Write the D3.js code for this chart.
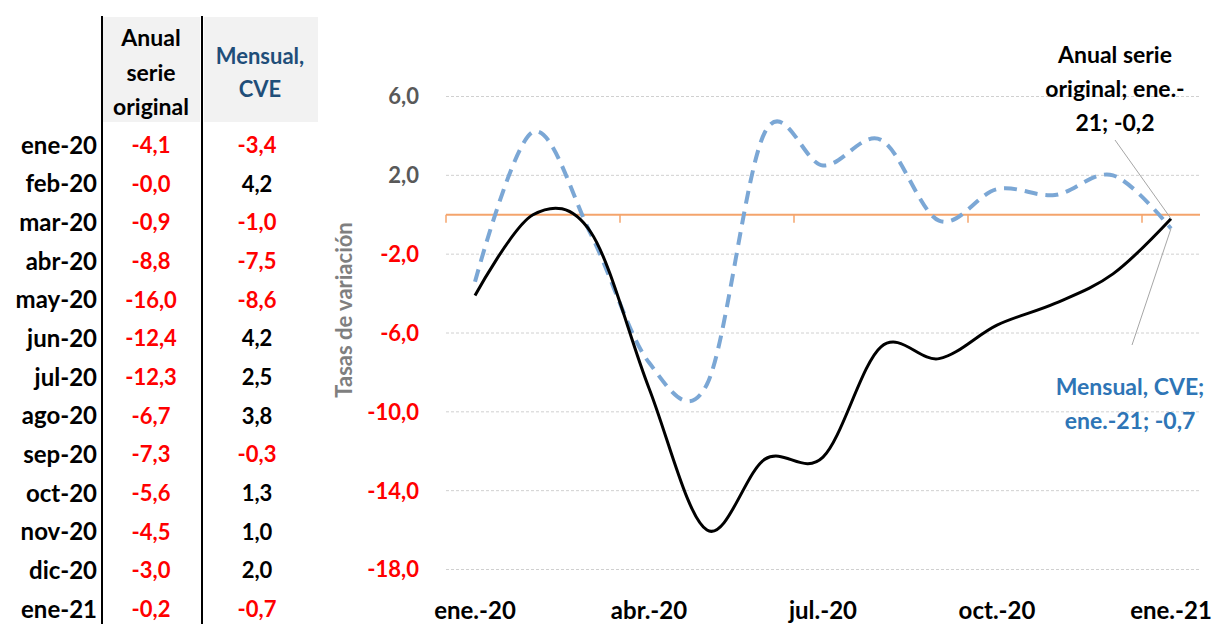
<!DOCTYPE html>
<html>
<head>
<meta charset="utf-8">
<script src="https://cdn.jsdelivr.net/npm/d3@7"></script>
<style>
  body { margin: 0; background: #fff; }
  svg { font-family: Lato, "Open Sans", sans-serif; font-weight: bold; }
</style>
</head>
<body>
<svg id="chart" width="1217" height="624"></svg>
<script>
const rowLabels = ["ene-20","feb-20","mar-20","abr-20","may-20","jun-20","jul-20","ago-20","sep-20","oct-20","nov-20","dic-20","ene-21"];
const axisLabels = ["ene.-20","feb.-20","mar.-20","abr.-20","may.-20","jun.-20","jul.-20","ago.-20","sep.-20","oct.-20","nov.-20","dic.-20","ene.-21"];
const anual = [-4.1, -0.0, -0.9, -8.8, -16.0, -12.4, -12.3, -6.7, -7.3, -5.6, -4.5, -3.0, -0.2];
const anualText = ["-4,1","-0,0","-0,9","-8,8","-16,0","-12,4","-12,3","-6,7","-7,3","-5,6","-4,5","-3,0","-0,2"];
const mensual = [-3.4, 4.2, -1.0, -7.5, -8.6, 4.2, 2.5, 3.8, -0.3, 1.3, 1.0, 2.0, -0.7];
const yTicks = [6, 2, -2, -6, -10, -14, -18];

const svg = d3.select("#chart");
const fmt = v => d3.format(".1f")(v).replace(".", ",").replace("−", "-");

// ---- table on the left
const rowY = d3.scalePoint().domain(rowLabels).range([145, 609]);
const col1 = 151, col2 = 257;

svg.append("rect").attr("x", 103).attr("y", 17).attr("width", 97).attr("height", 105).attr("fill", "#f2f2f2");
svg.append("rect").attr("x", 204).attr("y", 17).attr("width", 114).attr("height", 105).attr("fill", "#f2f2f2");

const head1 = svg.append("text").attr("text-anchor", "middle").attr("font-size", 23).attr("fill", "#000");
["Anual", "serie", "original"].forEach((t, i) =>
  head1.append("tspan").attr("x", col1).attr("y", 46 + i * 34.5).text(t));
const head2 = svg.append("text").attr("text-anchor", "middle").attr("font-size", 22).attr("fill", "#1f4e79");
["Mensual,", "CVE"].forEach((t, i) =>
  head2.append("tspan").attr("x", 260).attr("y", 64 + i * 33).text(t));

svg.selectAll("line.vsep").data([102, 202]).join("line")
  .attr("x1", d => d).attr("x2", d => d).attr("y1", 16).attr("y2", 624)
  .attr("stroke", "#000").attr("stroke-width", 2);

const rows = svg.append("g");
rows.selectAll("text.lab").data(rowLabels).join("text")
  .attr("x", 97).attr("y", d => rowY(d)).attr("dy", "0.36em")
  .attr("text-anchor", "end").attr("font-size", 24).attr("fill", "#000").text(d => d);
rows.selectAll("text.a").data(anual).join("text")
  .attr("x", col1).attr("y", (d, i) => rowY(rowLabels[i])).attr("dy", "0.36em")
  .attr("text-anchor", "middle").attr("font-size", 22).attr("fill", "#ff0000")
  .text((d, i) => anualText[i]);
rows.selectAll("text.m").data(mensual).join("text")
  .attr("x", col2).attr("y", (d, i) => rowY(rowLabels[i])).attr("dy", "0.36em")
  .attr("text-anchor", "middle").attr("font-size", 22).attr("fill", d => d < 0 ? "#ff0000" : "#000")
  .text(d => fmt(d));

// ---- line chart
const x = d3.scaleBand().domain(axisLabels).range([446, 1200]);
const cx = d => x(d) + x.bandwidth() / 2;
const y = d3.scaleLinear().domain([-18, 6]).range([569.5, 96.5]);

svg.selectAll("line.grid").data(yTicks).join("line")
  .attr("x1", 446).attr("x2", 1200)
  .attr("y1", d => y(d)).attr("y2", d => y(d))
  .attr("stroke", "#d0d0d0").attr("stroke-width", 1).attr("stroke-dasharray", "3,2");

svg.selectAll("text.ytick").data(yTicks).join("text")
  .attr("x", 419).attr("y", d => y(d)).attr("dy", "0.36em")
  .attr("text-anchor", "end").attr("font-size", 22)
  .attr("fill", d => d < 0 ? "#ff0000" : "#595959")
  .text(d => fmt(d));

svg.append("text")
  .attr("transform", `translate(352,310) rotate(-90)`)
  .attr("text-anchor", "middle").attr("font-size", 22).attr("fill", "#7f7f7f")
  .text("Tasas de variación");

// zero axis with ticks every three months
svg.append("line").attr("x1", 446).attr("x2", 1200).attr("y1", y(0)).attr("y2", y(0))
  .attr("stroke", "#f4a46c").attr("stroke-width", 2);
const tickIdx = [0, 3, 6, 9, 12];
svg.selectAll("line.xtick").data(tickIdx).join("line")
  .attr("x1", i => x(axisLabels[i])).attr("x2", i => x(axisLabels[i]))
  .attr("y1", y(0)).attr("y2", y(0) + 8)
  .attr("stroke", "#f4a46c").attr("stroke-width", 1.5);

svg.selectAll("text.xlab").data(tickIdx).join("text")
  .attr("x", i => cx(axisLabels[i])).attr("y", 619)
  .attr("text-anchor", "middle").attr("font-size", 24).attr("fill", "#000")
  .text(i => axisLabels[i]);

const line = d3.line().x((d, i) => cx(axisLabels[i])).y(d => y(d))
  .curve(d3.curveCardinal.tension(0));

svg.append("path").datum(mensual).attr("d", line)
  .attr("fill", "none").attr("stroke", "#7ba7d5").attr("stroke-width", 4)
  .attr("stroke-dasharray", "13,8");
svg.append("path").datum(anual).attr("d", line)
  .attr("fill", "none").attr("stroke", "#000").attr("stroke-width", 3);

// ---- end-point annotations
const last = axisLabels.length - 1;
const ex = cx(axisLabels[last]);
svg.append("line").attr("x1", 1115).attr("y1", 140).attr("x2", ex).attr("y2", y(anual[last]))
  .attr("stroke", "#a6a6a6").attr("stroke-width", 1);
svg.append("line").attr("x1", 1132).attr("y1", 345).attr("x2", ex).attr("y2", y(mensual[last]))
  .attr("stroke", "#a6a6a6").attr("stroke-width", 1);

const ann1 = svg.append("text").attr("text-anchor", "middle").attr("font-size", 23).attr("fill", "#000");
["Anual serie", "original; ene.-", "21; -0,2"].forEach((t, i) =>
  ann1.append("tspan").attr("x", 1115).attr("y", 63 + i * 34).text(t));
const ann2 = svg.append("text").attr("text-anchor", "middle").attr("font-size", 23).attr("fill", "#2e75b6");
["Mensual, CVE;", "ene.-21; -0,7"].forEach((t, i) =>
  ann2.append("tspan").attr("x", 1130).attr("y", 395 + i * 34).text(t));
</script>
</body>
</html>
